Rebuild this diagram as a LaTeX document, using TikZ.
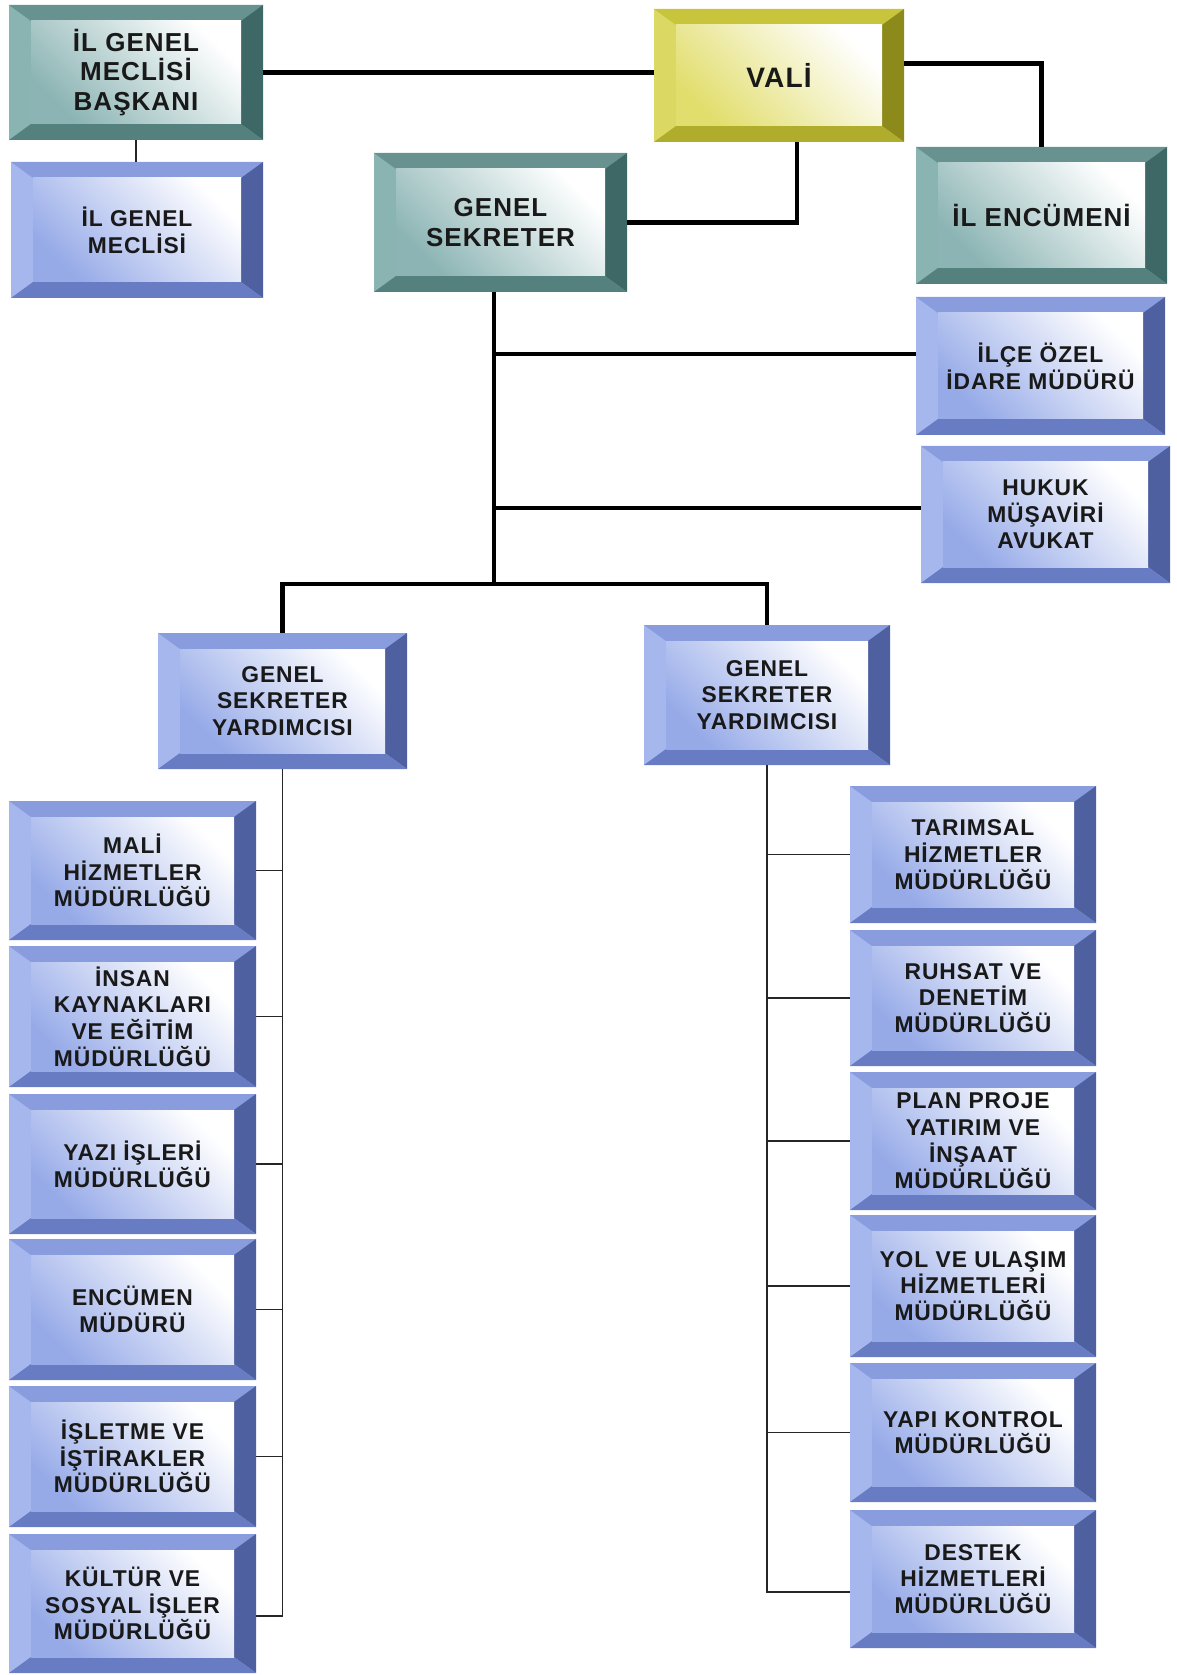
\documentclass[tikz,border=0pt]{standalone}
\usepackage{fontspec}
\newfontfamily\boxfont[LetterSpace=4]{Liberation Sans}
\usetikzlibrary{calc,fit}

\definecolor{bvbluetop}{RGB}{137,156,222}
\definecolor{bvblueleft}{RGB}{166,183,238}
\definecolor{bvblueright}{RGB}{78,96,160}
\definecolor{bvbluebottom}{RGB}{104,124,196}
\definecolor{bvblueface}{RGB}{150,170,232}
\definecolor{bvtealtop}{RGB}{104,146,144}
\definecolor{bvtealleft}{RGB}{138,180,178}
\definecolor{bvtealright}{RGB}{62,104,102}
\definecolor{bvtealbottom}{RGB}{84,128,126}
\definecolor{bvtealface}{RGB}{140,180,180}
\definecolor{bvyellowtop}{RGB}{200,196,60}
\definecolor{bvyellowleft}{RGB}{220,216,100}
\definecolor{bvyellowright}{RGB}{140,138,26}
\definecolor{bvyellowbottom}{RGB}{176,172,44}
\definecolor{bvyellowface}{RGB}{226,222,110}

\newcommand{\bvw}{22}
\newcommand{\bvh}{16}
% bevelled box: [text style] name, colour family, x1, y1, x2, y2, text
\newcommand{\orgbox}[8][]{%
  \fill[bv#3left] (#4,#5) rectangle (#6,#7);
  \fill[bv#3top] (#4,#5) -- (#6,#5) -- (#6-\bvw,#5+\bvh) -- (#4+\bvw,#5+\bvh) -- cycle;
  \fill[bv#3right] (#6,#5) -- (#6,#7) -- (#6-\bvw,#7-\bvh) -- (#6-\bvw,#5+\bvh) -- cycle;
  \fill[bv#3bottom] (#4,#7) -- (#6,#7) -- (#6-\bvw,#7-\bvh) -- (#4+\bvw,#7-\bvh) -- cycle;
  \shade[bottom color=bv#3face, top color=white, shading angle=-45]
    (#4+\bvw,#5+\bvh) rectangle (#6-\bvw,#7-\bvh);
  \node[inner sep=0pt,fit={(#4,#5) (#6,#7)}] (#2) {};
  \node[boxtext,#1] at (#2.center) {#8};
}

\begin{document}
\begin{tikzpicture}[x=0.02cm,y=-0.02cm,
  boxtext/.style={inner sep=0pt,align=center,text=black!90,
    font=\boxfont\bfseries\fontsize{13}{15.2}\selectfont},
  bigtext/.style={font=\boxfont\bfseries\fontsize{14.8}{17}\selectfont},
  valitext/.style={font=\boxfont\bfseries\fontsize{16}{18}\selectfont},
  link/.style={line width=2.4pt},
  twig/.style={line width=0.8pt,black!85}]
\useasboundingbox (0,0) rectangle (1176,1675);

% top
\orgbox[bigtext]{baskan}{teal}{9}{5}{263}{140}{İL GENEL\\MECLİSİ\\BAŞKANI}
\orgbox{meclis}{blue}{11}{162}{263}{298}{İL GENEL\\MECLİSİ}
\orgbox[valitext]{vali}{yellow}{654}{9}{904}{142}{VALİ}
\orgbox[bigtext]{gs}{teal}{374}{153}{627}{292}{GENEL\\SEKRETER}
\orgbox[bigtext]{encumen}{teal}{916}{147}{1167}{284}{İL ENCÜMENİ}
\orgbox{ilce}{blue}{916}{297}{1165}{435}{İLÇE ÖZEL\\İDARE MÜDÜRÜ}
\orgbox{hukuk}{blue}{921}{446}{1170}{583}{HUKUK\\MÜŞAVİRİ\\AVUKAT}

% yardimcilar
\orgbox{gsy1}{blue}{158}{633}{407}{769}{GENEL\\SEKRETER\\YARDIMCISI}
\orgbox{gsy2}{blue}{644}{625}{890}{765}{GENEL\\SEKRETER\\YARDIMCISI}

% left column
\orgbox{mali}{blue}{9}{801}{256}{940}{MALİ\\HİZMETLER\\MÜDÜRLÜĞÜ}
\orgbox{insan}{blue}{9}{946}{256}{1087}{İNSAN\\KAYNAKLARI\\VE EĞİTİM\\MÜDÜRLÜĞÜ}
\orgbox{yazi}{blue}{9}{1094}{256}{1234}{YAZI İŞLERİ\\MÜDÜRLÜĞÜ}
\orgbox{encmud}{blue}{9}{1239}{256}{1380}{ENCÜMEN\\MÜDÜRÜ}
\orgbox{isletme}{blue}{9}{1386}{256}{1527}{İŞLETME VE\\İŞTİRAKLER\\MÜDÜRLÜĞÜ}
\orgbox{kultur}{blue}{9}{1534}{256}{1673}{KÜLTÜR VE\\SOSYAL İŞLER\\MÜDÜRLÜĞÜ}

% right column
\orgbox{tarim}{blue}{850}{786}{1096}{923}{TARIMSAL\\HİZMETLER\\MÜDÜRLÜĞÜ}
\orgbox{ruhsat}{blue}{850}{930}{1096}{1066}{RUHSAT VE\\DENETİM\\MÜDÜRLÜĞÜ}
\orgbox{plan}{blue}{850}{1072}{1096}{1210}{PLAN PROJE\\YATIRIM VE\\İNŞAAT\\MÜDÜRLÜĞÜ}
\orgbox{yol}{blue}{850}{1215}{1096}{1357}{YOL VE ULAŞIM\\HİZMETLERİ\\MÜDÜRLÜĞÜ}
\orgbox{yapi}{blue}{850}{1363}{1096}{1502}{YAPI KONTROL\\MÜDÜRLÜĞÜ}
\orgbox{destek}{blue}{850}{1510}{1096}{1648}{DESTEK\\HİZMETLERİ\\MÜDÜRLÜĞÜ}

\coordinate (tap1) at (494,354);
\coordinate (tap2) at (494,508);
\coordinate (fork) at (494,584);
\coordinate (lend) at (283,1616);
\coordinate (rend) at (767,1592);

\draw[link] (baskan.east) -- (baskan.east -| vali.west);
\draw[twig,line width=1.2pt] (baskan.south) -- (baskan.south |- meclis.north);
\draw[link] ($(vali.east)+(0,-12)$) -| (encumen.north);
\draw[link] ($(vali.south)+(18,0)$) |- (gs.east);
\draw[link] (gs.south -| fork) -- (fork);
\draw[link] (tap1) -- (tap1 -| ilce.west);
\draw[link] (tap2) -- (tap2 -| hukuk.west);
\draw[link] (gsy1.north) |- (fork) -| (gsy2.north);

\draw[twig] (gsy1.south) -- (gsy1.south |- lend) -- (lend -| kultur.east);
\foreach \b in {mali,insan,yazi,encmud,isletme}{
\draw[twig] (\b.east) -- (\b.east -| gsy1.south);
}
\draw[twig] (gsy2.south) -- (gsy2.south |- rend) -- (rend -| destek.west);
\foreach \b in {tarim,ruhsat,plan,yol,yapi}{
\draw[twig] (\b.west) -- (\b.west -| gsy2.south);
}
\end{tikzpicture}
\end{document}
